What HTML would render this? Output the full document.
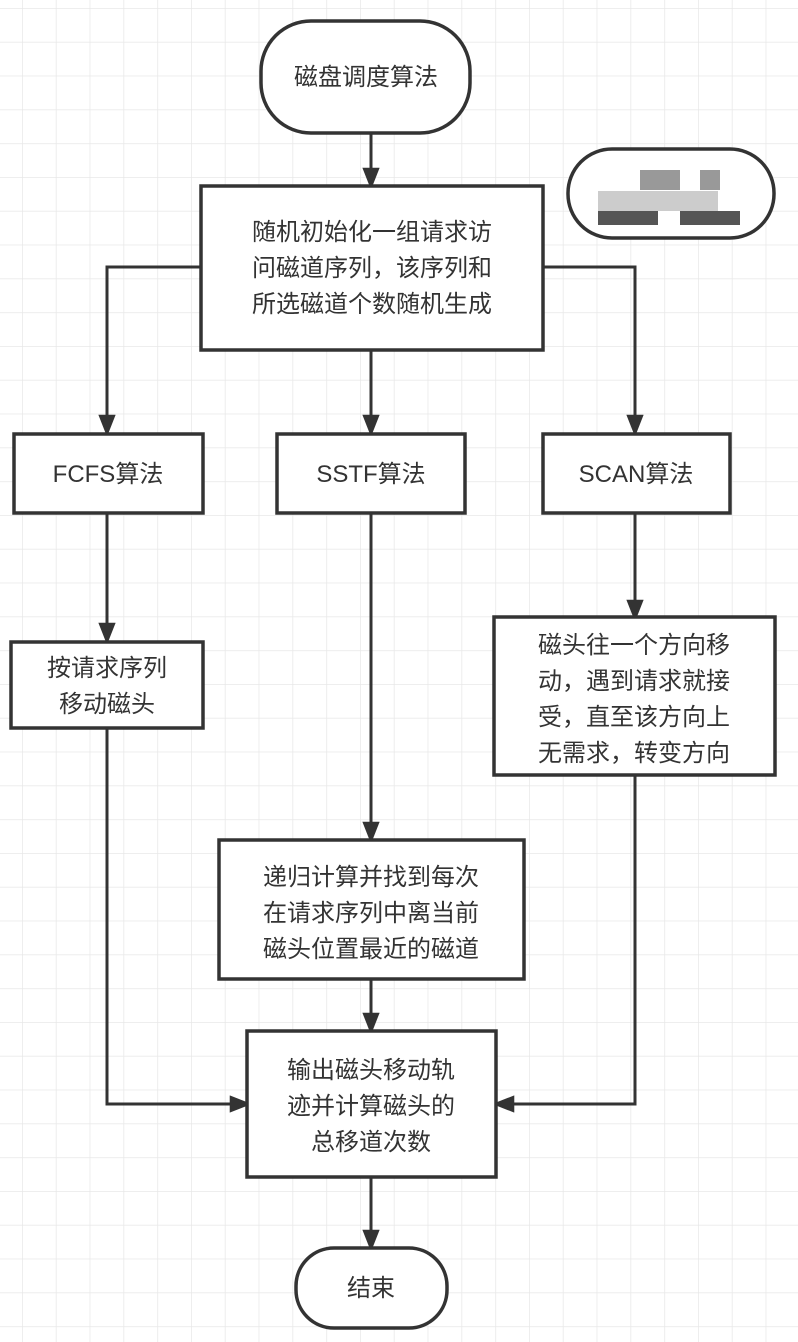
<!DOCTYPE html>
<html><head><meta charset="utf-8"><style>
html,body{margin:0;padding:0;background:#fff}
svg{display:block}
text{font-family:"Liberation Sans","Noto Sans CJK SC",sans-serif;font-size:24px;fill:#333;text-anchor:middle}
</style></head><body>
<svg width="798" height="1342" viewBox="0 0 798 1342" xmlns="http://www.w3.org/2000/svg">
<defs>
<pattern id="g" x="22" y="8" width="33.8" height="33.8" patternUnits="userSpaceOnUse">
<path d="M0 0H33.8M0 0V33.8" stroke="#e8e8e8" stroke-width="1.5" fill="none"/>
</pattern>
<marker id="a" viewBox="0 0 22 28" refX="22" refY="11" markerWidth="28" markerHeight="22" markerUnits="userSpaceOnUse" orient="auto">
<path d="M0 0L28 11L0 22Z" fill="#333"/>
</marker>
</defs>
<rect width="798" height="1342" fill="url(#g)"/>
<g stroke="#333" stroke-width="3" fill="none">
<line x1="371" y1="133" x2="371" y2="185" marker-end="url(#a)"/>
<polyline points="200,267 107,267 107,432" marker-end="url(#a)"/>
<polyline points="543,267 635,267 635,432" marker-end="url(#a)"/>
<line x1="371" y1="350" x2="371" y2="432" marker-end="url(#a)"/>
<line x1="107" y1="513" x2="107" y2="640" marker-end="url(#a)"/>
<line x1="635" y1="513" x2="635" y2="617" marker-end="url(#a)"/>
<line x1="371" y1="513" x2="371" y2="839" marker-end="url(#a)"/>
<polyline points="107,728 107,1104 247,1104" marker-end="url(#a)"/>
<polyline points="635,775 635,1104 497,1104" marker-end="url(#a)"/>
<line x1="371" y1="979" x2="371" y2="1030" marker-end="url(#a)"/>
<line x1="371" y1="1177" x2="371" y2="1247" marker-end="url(#a)"/>
</g>
<g stroke="#333" stroke-width="3.5" fill="#fff">
<rect x="261" y="21" width="209" height="112" rx="50"/>
<rect x="568" y="149" width="206" height="89" rx="44"/>
<rect x="201" y="186" width="342" height="164"/>
<rect x="14" y="434" width="189" height="79"/>
<rect x="277" y="434" width="188" height="79"/>
<rect x="543" y="434" width="187" height="79"/>
<rect x="11" y="642" width="192" height="86"/>
<rect x="494" y="617" width="281" height="158"/>
<rect x="219" y="840" width="305" height="139"/>
<rect x="247" y="1031" width="249" height="146"/>
<rect x="296" y="1248" width="151" height="80" rx="38"/>
</g>
<g fill="#999"><rect x="640" y="170" width="40" height="20"/><rect x="700" y="170" width="20" height="20"/>
<rect x="598" y="191" width="120" height="20" fill="#ccc"/><rect x="598" y="211" width="60" height="14" fill="#555"/><rect x="680" y="211" width="60" height="14" fill="#555"/></g>
<text x="366" y="85">磁盘调度算法</text>
<text x="372" y="240">随机初始化一组请求访</text>
<text x="372" y="276">问磁道序列，该序列和</text>
<text x="372" y="312">所选磁道个数随机生成</text>
<text x="108" y="482">FCFS算法</text>
<text x="371" y="482">SSTF算法</text>
<text x="636" y="482">SCAN算法</text>
<text x="107" y="676">按请求序列</text>
<text x="107" y="712">移动磁头</text>
<text x="634" y="653">磁头往一个方向移</text>
<text x="634" y="689">动，遇到请求就接</text>
<text x="634" y="725">受，直至该方向上</text>
<text x="634" y="761">无需求，转变方向</text>
<text x="371" y="885">递归计算并找到每次</text>
<text x="371" y="921">在请求序列中离当前</text>
<text x="371" y="957">磁头位置最近的磁道</text>
<text x="371" y="1078">输出磁头移动轨</text>
<text x="371" y="1114">迹并计算磁头的</text>
<text x="371" y="1150">总移道次数</text>
<text x="371" y="1296">结束</text>
</svg>
</body></html>
